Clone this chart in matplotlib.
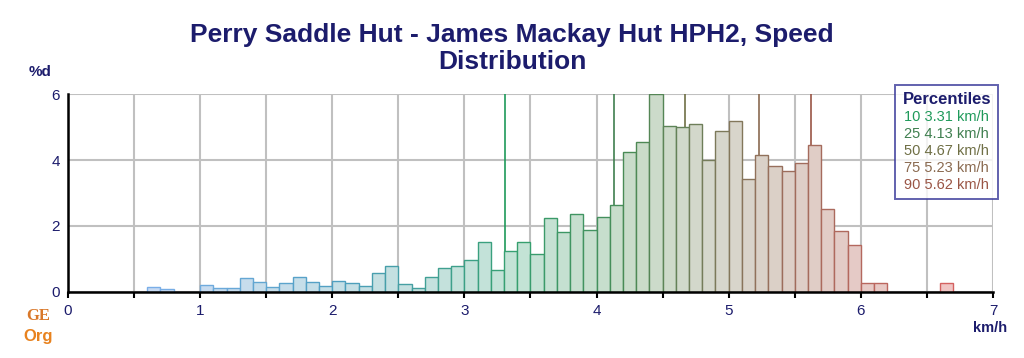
import matplotlib
matplotlib.use("Agg")
import matplotlib.pyplot as plt
from matplotlib.colors import LinearSegmentedColormap
from matplotlib.lines import Line2D

# ─── DATA ─────────────────────────────────────────────────────────────────────
BIN_LEFT = [0.6, 0.7,
            1.0, 1.1, 1.2, 1.3, 1.4, 1.5, 1.6, 1.7, 1.8, 1.9,
            2.0, 2.1, 2.2, 2.3, 2.4, 2.5, 2.6, 2.7, 2.8, 2.9,
            3.0, 3.1, 3.2, 3.3, 3.4, 3.5, 3.6, 3.7, 3.8, 3.9,
            4.0, 4.1, 4.2, 4.3, 4.4, 4.5, 4.6, 4.7, 4.8, 4.9,
            5.0, 5.1, 5.2, 5.3, 5.4, 5.5, 5.6, 5.7, 5.8, 5.9,
            6.0, 6.1, 6.6]
PCT_DAYS = [0.14, 0.08,
            0.22, 0.11, 0.11, 0.42, 0.30, 0.15, 0.27, 0.44, 0.30, 0.18,
            0.33, 0.28, 0.19, 0.58, 0.80, 0.25, 0.12, 0.46, 0.73, 0.80,
            0.97, 1.52, 0.66, 1.25, 1.50, 1.14, 2.23, 1.83, 2.37, 1.88,
            2.26, 2.63, 4.23, 4.56, 6.00, 5.02, 5.00, 5.08, 4.01, 4.87,
            5.17, 3.43, 4.16, 3.81, 3.66, 3.92, 4.44, 2.50, 1.85, 1.43,
            0.26, 0.26, 0.26]
PCT_LEVELS = [10, 25, 50, 75, 90]
PCT_VALUES = [3.31, 4.13, 4.67, 5.23, 5.62]
PCT_COLORS = ["#1f9a5a", "#3f7f4f", "#6f6f45", "#8a6a50", "#9a5545"]

TITLE = "Perry Saddle Hut - James Mackay Hut HPH2, Speed\nDistribution"
NAVY = "#1c1c6c"
BIN_W = 0.1

# colour gradient along speed axis
fill_cmap = LinearSegmentedColormap.from_list("fill", [
    (0.0, "#c8daf2"), (0.23, "#c5dfe6"), (0.45, "#c3e3d6"),
    (0.6, "#c9dcc9"), (0.7, "#d6d7cc"), (0.78, "#dccfc7"), (1.0, "#f2c4c4")])
edge_cmap = LinearSegmentedColormap.from_list("edge", [
    (0.0, "#7aaee8"), (0.23, "#4f9fc0"), (0.45, "#35a070"),
    (0.6, "#4a8a55"), (0.7, "#7a7a5a"), (0.78, "#9a6e5c"), (1.0, "#d86060")])
x0, x1 = 0.6, 6.7
fills = [fill_cmap((x - x0) / (x1 - x0)) for x in BIN_LEFT]
edges = [edge_cmap((x - x0) / (x1 - x0)) for x in BIN_LEFT]

# ─── PLOTTING ─────────────────────────────────────────────────────────────────
fig = plt.figure(figsize=(10.24, 3.58), dpi=100)
ax = fig.add_axes([0.0664, 0.1844, 0.9033, 0.553])

ax.bar(BIN_LEFT, PCT_DAYS, width=BIN_W, align="edge", color=fills,
       edgecolor=edges, linewidth=1.0, zorder=3)

for v, c in zip(PCT_VALUES, PCT_COLORS):
    ax.plot([v, v], [0, 6], color=c, linewidth=1.2, zorder=2)

ax.set_xlim(0, 7)
ax.set_ylim(0, 6)
ax.set_xticks(range(0, 8))
ax.set_xticks([i + 0.5 for i in range(7)], minor=True)
ax.set_yticks([0, 2, 4, 6])
ax.grid(True, which="both", axis="x", color="#c0c0c0", linewidth=1.5, zorder=0)
ax.grid(True, which="major", axis="y", color="#c0c0c0", linewidth=1.5, zorder=0)
ax.set_axisbelow(True)
for s in ["top", "right"]:
    ax.spines[s].set_visible(False)
for s in ["left", "bottom"]:
    ax.spines[s].set_linewidth(1.8)
    ax.spines[s].set_zorder(4)
ax.tick_params(axis="x", which="both", direction="out", length=4, width=1.5,
               colors="black", labelcolor=NAVY, labelsize=11, pad=5)
ax.tick_params(axis="y", length=0, labelcolor=NAVY, labelsize=11, pad=6)
for lab in ax.get_xticklabels() + ax.get_yticklabels():
    lab.set_family(["Liberation Sans", "DejaVu Sans"])

fig.text(0.5, 0.865, TITLE, ha="center", va="center", fontsize=19,
         fontweight="bold", color=NAVY, linespacing=1.17,
         family=["Liberation Sans", "DejaVu Sans"])
fig.text(0.039, 0.80, "%d", ha="center", va="center", fontsize=11,
         fontweight="bold", color=NAVY, family=["Liberation Sans"])
fig.text(0.967, 0.085, "km/h", ha="center", va="center", fontsize=10.5,
         fontweight="bold", color=NAVY, family=["Liberation Sans", "DejaVu Sans"])

# legend with coloured text only
handles = [Line2D([], [], linestyle="none") for _ in PCT_LEVELS]
labels = [f"{p} {v:.2f} km/h" for p, v in zip(PCT_LEVELS, PCT_VALUES)]
leg = fig.legend(handles, labels, loc="upper right",
                 bbox_to_anchor=(0.975, 0.763), borderaxespad=0,
                 title="Percentiles",
                 handlelength=0, handletextpad=0, labelspacing=0.2,
                 frameon=True, fancybox=False, borderpad=0.5,
                 prop={"family": "Liberation Sans", "size": 10.5})
leg.get_frame().set_edgecolor("#3a3a9a")
leg.get_frame().set_linewidth(1.4)
leg.get_title().set_color(NAVY)
leg.get_title().set_fontweight("bold")
leg.get_title().set_fontsize(12)
leg.get_title().set_family("Liberation Sans")
for t, c in zip(leg.get_texts(), PCT_COLORS):
    t.set_color(c)

# site logo
fig.text(0.037, 0.118, "GE", ha="center", va="center", fontsize=12,
         fontweight="bold", color="#d9782a", family="Liberation Serif")
fig.text(0.037, 0.06, "Org", ha="center", va="center", fontsize=12,
         fontweight="bold", color="#e8821e", family="Liberation Sans")

fig.savefig("out.png", dpi=100)
